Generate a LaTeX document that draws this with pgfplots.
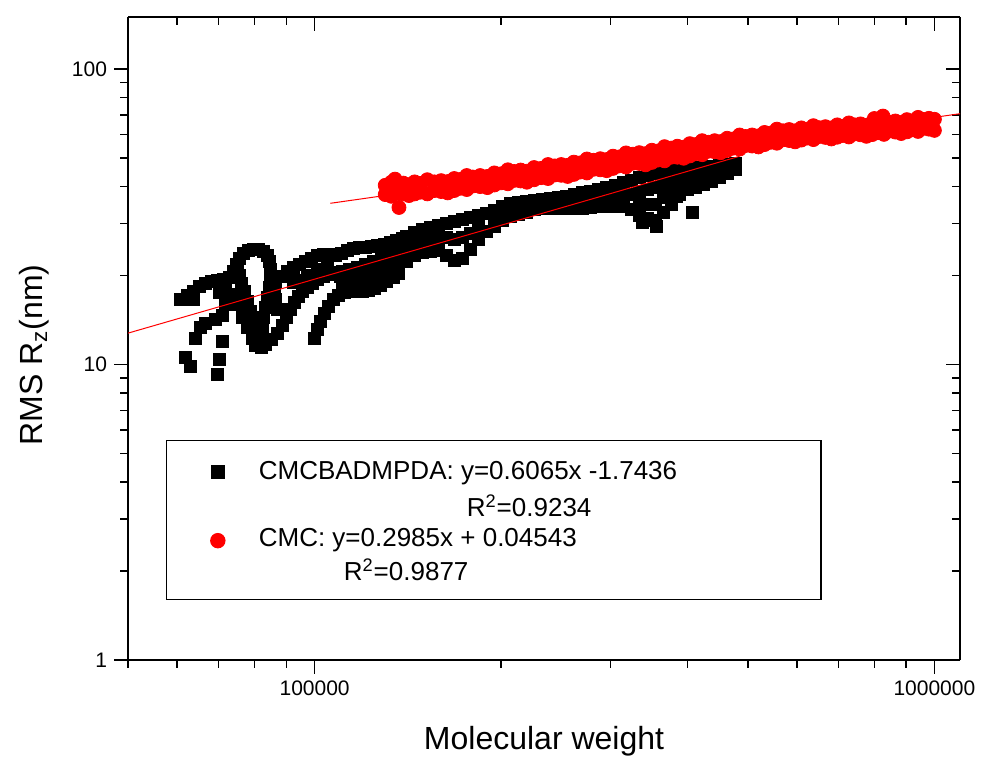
\documentclass[border=0pt]{standalone}
\usepackage{fontspec}
\setmainfont{Liberation Sans}
\usepackage{pgfplots}
\usepackage{pgfplotstable}
\pgfplotsset{compat=1.18}

% CMCBADMPDA: molecular weight vs. RMS radius (several overlapping traces)
\pgfplotstableread[row sep=\\]{
M R \\
60650 16.6 \\ 62250 17.1 \\ 63660 17.7 \\ 65100 18.4 \\ 66580 18.8 \\ 68090 19.1 \\ 69630 19.3 \\
71210 19.4 \\ 72820 19.7 \\ 73910 20.7 \\ 74750 21.8 \\ 75590 22.9 \\ 76730 23.8 \\ 78180 24.3 \\
79650 24.5 \\ 81150 24.5 \\ 82690 24.2 \\ 83930 23.4 \\ 84560 22.3 \\ 84870 21.0 \\ 84870 19.7 \\
75030 21.3 \\ 75590 20.0 \\ 76160 18.8 \\ 77020 17.7 \\ 77890 16.4 \\ 78770 15.1 \\ 79650 14.0 \\
80550 12.9 \\ 81460 12.1 \\ 82070 11.4 \\
84560 18.2 \\ 83930 16.9 \\ 83300 15.6 \\ 82690 14.4 \\ 82380 13.4 \\ 82070 12.3 \\
83300 11.7 \\ 85190 12.2 \\ 87110 12.7 \\ 88750 13.6 \\ 90090 14.4 \\ 91440 15.4 \\ 92810 16.2 \\
94210 17.0 \\ 95620 17.7 \\ 97420 18.2 \\ 99260 18.8 \\ 101100 19.4 \\ 103400 19.9 \\ 105800 20.2 \\
108100 20.5 \\ 111000 20.7 \\ 114000 21.0 \\ 117400 21.3 \\ 120900 21.8 \\ 124600 22.3 \\
128400 22.9 \\ 132300 23.4 \\ 136300 24.2 \\
86470 19.1 \\ 88420 19.9 \\ 90420 20.7 \\ 92470 21.3 \\ 94560 21.8 \\ 96700 22.3 \\ 98890 22.9 \\
101100 23.4 \\ 103400 23.6 \\ 105800 23.6 \\ 108100 23.4 \\ 110600 23.8 \\ 113100 24.3 \\
115700 24.7 \\ 118300 24.9 \\ 120900 24.9 \\ 123700 25.1 \\ 126500 25.3 \\ 129400 25.5 \\
132300 25.9 \\ 135300 26.3 \\ 138400 26.7 \\ 141500 27.2 \\ 144700 27.6 \\ 148000 28.0 \\
100000 12.3 \\ 101100 13.1 \\ 102300 14.0 \\ 103800 14.9 \\ 105400 15.7 \\ 107300 16.6 \\
109400 17.1 \\ 111800 17.5 \\ 114400 17.7 \\ 117000 17.7 \\ 119600 17.7 \\ 122300 17.8 \\
125100 18.1 \\ 127900 18.5 \\ 130800 19.1 \\ 133800 19.7 \\ 136300 20.3 \\
110200 19.9 \\ 113100 19.7 \\ 116100 19.7 \\ 118700 19.7 \\ 121900 20.2 \\ 125100 20.7 \\
128400 21.3 \\ 131800 22.0 \\ 135300 22.7 \\ 138900 23.2 \\ 142600 24.0 \\ 146300 24.7 \\
150200 25.3 \\
111000 19.0 \\ 115300 19.0 \\ 119600 19.0 \\ 124200 19.3 \\ 128900 19.7 \\ 133800 21.0 \\
61790 10.6 \\ 62960 9.84 \\ 69630 9.25 \\ 70150 10.4 \\ 70940 12.0 \\ 64140 12.3 \\ 65350 13.4 \\
66580 13.8 \\ 69110 14.2 \\ 70940 14.7 \\ 71740 16.0 \\ 73640 17.3 \\ 75030 16.0 \\ 76450 14.4 \\
77890 13.4 \\ 79350 12.3 \\ 80250 11.6 \\ 86150 17.7 \\ 86470 16.6 \\ 87110 15.4 \\ 92470 19.0 \\
94910 19.3 \\ 97420 20.0 \\ 101100 21.0 \\ 104970 21.3 \\ 63660 16.6 \\ 71740 18.0 \\ 70150 17.5 \\
136300 26.3 \\ 140400 27.2 \\ 144700 28.0 \\ 149100 28.7 \\ 153600 29.1 \\ 158200 29.6 \\
163100 30.1 \\ 168000 30.5 \\ 173100 31.0 \\ 178400 31.5 \\ 183800 32.0 \\ 189300 32.5 \\
195100 33.3 \\ 201000 34.3 \\ 207100 35.1 \\ 213300 35.4 \\ 219800 35.7 \\ 226400 36.0 \\
233300 36.3 \\ 240400 36.5 \\ 247700 36.8 \\ 255200 37.1 \\ 262900 37.7 \\ 270900 38.3 \\
279100 38.6 \\ 287500 39.2 \\ 296200 39.8 \\ 305200 40.4 \\ 314400 41.4 \\ 324000 42.0 \\
333800 43.1 \\ 343900 43.7 \\ 354300 44.4 \\ 365100 45.1 \\ 376100 45.5 \\ 387500 45.8 \\
399300 46.2 \\ 411400 46.5 \\ 423800 46.5 \\ 436700 46.9 \\ 449900 47.3 \\ 463600 47.6 \\
477600 48.0 \\
136300 21.5 \\ 140400 22.3 \\ 144700 23.4 \\ 149100 24.0 \\ 153600 24.2 \\ 158200 24.3 \\
163100 23.4 \\ 168000 22.5 \\ 173100 22.9 \\ 178400 24.5 \\ 183800 26.5 \\ 189300 28.2 \\
195100 29.4 \\ 201000 30.8 \\ 207100 31.8 \\ 213300 32.3 \\ 219800 32.7 \\ 226400 33.5 \\
233300 33.8 \\ 240400 33.8 \\ 247700 33.8 \\ 255200 33.8 \\ 262900 33.8 \\ 270900 33.8 \\
279100 34.1 \\ 287500 34.3 \\ 296200 34.3 \\ 305200 34.3 \\ 314400 34.3 \\ 324000 33.5 \\
333800 32.0 \\ 343900 31.3 \\ 354300 30.8 \\ 365100 32.7 \\ 376100 34.9 \\ 387500 37.7 \\
399300 39.2 \\ 411400 39.8 \\ 423800 40.7 \\ 436700 41.7 \\ 449900 43.1 \\ 463600 44.4 \\
477600 45.8 \\
136300 23.8 \\ 140400 24.7 \\ 144700 25.5 \\ 149100 26.1 \\ 153600 26.5 \\ 158200 27.0 \\
163100 27.0 \\ 168000 26.5 \\ 173100 27.0 \\ 178400 27.8 \\ 183800 29.1 \\ 287500 36.5 \\
305200 37.4 \\ 324000 37.7 \\ 333800 38.6 \\ 333800 35.1 \\ 343900 39.2 \\ 343900 34.9 \\
354300 39.8 \\ 354300 34.9 \\ 365100 40.7 \\ 365100 36.8 \\ 376100 41.4 \\ 376100 38.0 \\
387500 41.7 \\ 399300 42.4 \\
195100 31.3 \\ 201000 32.5 \\ 207100 33.4 \\ 213300 33.8 \\ 219800 34.2 \\ 226400 34.7 \\
233300 35.0 \\ 240400 35.1 \\ 247700 35.3 \\ 255200 35.4 \\ 262900 35.7 \\ 270900 36.0 \\
279100 36.3 \\ 296200 36.9 \\ 314400 37.7 \\ 411400 43.0 \\ 423800 43.5 \\ 436700 44.2 \\
449900 45.1 \\
406700 32.7 \\ 337600 30.3 \\ 355600 29.4 \\ 383200 37.1 \\
}\cmcbad

% CMC: molecular weight vs. RMS radius
\pgfplotstableread[row sep=\\]{
M R \\
130000 40.4 \\ 130000 37.6 \\ 133000 41.4 \\ 133000 37.1 \\ 136000 40.8 \\ 136000 38.0 \\
139000 41.1 \\ 139000 37.8 \\ 142000 40.6 \\ 142000 37.3 \\ 145000 41.5 \\ 145000 37.8 \\
148000 41.0 \\ 148000 38.3 \\ 152000 42.2 \\ 152000 37.8 \\ 156000 41.5 \\ 156000 38.8 \\
160000 41.9 \\ 160000 38.5 \\ 164000 41.6 \\ 164000 38.1 \\ 168000 42.6 \\ 168000 38.8 \\
172000 42.3 \\ 172000 39.5 \\ 176000 43.6 \\ 176000 39.1 \\ 180000 43.1 \\ 180000 40.2 \\
185000 43.6 \\ 185000 40.0 \\ 190000 43.3 \\ 190000 39.7 \\ 195000 44.5 \\ 195000 40.5 \\
200000 44.2 \\ 200000 41.2 \\ 205000 45.6 \\ 205000 40.9 \\ 210000 45.0 \\ 210000 42.0 \\
215000 45.5 \\ 215000 41.8 \\ 220000 45.1 \\ 220000 41.4 \\ 226000 46.4 \\ 226000 42.2 \\
232000 46.1 \\ 232000 42.9 \\ 238000 47.5 \\ 238000 42.6 \\ 244000 47.0 \\ 244000 43.8 \\
250000 47.5 \\ 250000 43.7 \\ 256000 47.2 \\ 256000 43.3 \\ 262000 48.4 \\ 262000 44.0 \\
268000 48.1 \\ 268000 44.8 \\ 275000 49.6 \\ 275000 44.5 \\ 282000 49.1 \\ 282000 45.8 \\
289000 49.7 \\ 289000 45.6 \\ 296000 49.4 \\ 296000 45.3 \\ 303000 50.7 \\ 303000 46.1 \\
310000 50.4 \\ 310000 47.0 \\ 318000 52.0 \\ 318000 46.6 \\ 326000 51.5 \\ 326000 48.0 \\
334000 52.1 \\ 334000 47.9 \\ 342000 51.7 \\ 342000 47.4 \\ 350000 53.1 \\ 350000 48.3 \\
358000 52.8 \\ 358000 49.2 \\ 367000 54.6 \\ 367000 48.9 \\ 376000 54.0 \\ 376000 50.3 \\
385000 54.8 \\ 385000 50.3 \\ 394000 54.4 \\ 394000 49.9 \\ 403000 55.9 \\ 403000 50.8 \\
412000 55.5 \\ 412000 51.7 \\ 422000 57.2 \\ 422000 51.3 \\ 432000 56.5 \\ 432000 52.7 \\
442000 57.2 \\ 442000 52.5 \\ 452000 56.8 \\ 452000 52.1 \\ 463000 58.3 \\ 463000 53.0 \\
474000 58.0 \\ 474000 54.0 \\ 485000 59.8 \\ 485000 53.6 \\ 496000 59.1 \\ 496000 55.1 \\
508000 59.8 \\ 508000 54.9 \\ 520000 59.4 \\ 520000 54.5 \\ 532000 61.0 \\ 532000 55.5 \\
544000 60.7 \\ 544000 56.5 \\ 557000 62.6 \\ 557000 56.1 \\ 570000 61.8 \\ 570000 57.6 \\
583000 62.4 \\ 583000 57.3 \\ 596000 61.8 \\ 596000 56.7 \\ 610000 63.2 \\ 610000 57.5 \\
624000 62.6 \\ 624000 58.4 \\ 638000 64.3 \\ 638000 57.7 \\ 652000 63.3 \\ 652000 59.1 \\
667000 63.8 \\ 667000 58.7 \\ 682000 63.2 \\ 682000 58.0 \\ 697000 64.7 \\ 697000 58.8 \\
712000 64.0 \\ 712000 59.6 \\ 728000 65.7 \\ 728000 58.9 \\ 744000 64.7 \\ 744000 60.3 \\
760000 65.2 \\ 760000 59.9 \\ 777000 64.5 \\ 777000 59.2 \\ 794000 65.9 \\ 794000 60.0 \\
811000 65.3 \\ 811000 60.9 \\ 829000 67.1 \\ 829000 60.1 \\ 847000 66.1 \\ 847000 61.7 \\
865000 66.7 \\ 865000 61.2 \\ 884000 65.9 \\ 884000 60.5 \\ 903000 67.4 \\ 903000 61.3 \\
922000 66.8 \\ 922000 62.3 \\ 941000 68.6 \\ 941000 61.5 \\ 960000 67.5 \\ 960000 63.0 \\
980000 68.1 \\ 980000 62.6 \\ 1000000 67.6 \\ 1000000 62.0 \\
134800 42.4 \\ 136800 34.0 \\ 826000 69.3 \\ 800000 68.0 \\
}\cmc

\pgfplotsset{
  logframe/.style={
    scale only axis, width=416pt, height=321.5pt,
    xmin=50000, xmax=1100000, ymin=1, ymax=150,
    axis line style={line width=0.8pt, black},
    major tick length=7pt, minor tick length=4pt,
    every tick/.append style={line width=0.7pt, black},
    every minor tick/.append style={line width=0.7pt, black},
    xtick={100000,1000000}, ytick={1,10,100},
    minor xtick={50000,60000,70000,80000,90000,200000,300000,400000,500000,600000,700000,800000,900000},
    minor ytick={2,3,4,5,6,7,8,9,20,30,40,50,60,70,80,90},
  }
}

\begin{document}
\begin{tikzpicture}
\useasboundingbox (-64pt,-48pt) rectangle (430pt,330pt);

% top and right edges: ticks point inward
\begin{axis}[xmode=log, ymode=log, logframe,
  axis x line*=top, axis y line*=right, tick align=inside,
  xticklabels={}, yticklabels={}]
\end{axis}

% bottom and left edges: ticks point outward, data and legend
\begin{axis}[xmode=log, ymode=log, logframe,
  axis x line*=bottom, axis y line*=left, tick align=outside,
  xticklabels={100000,1000000}, yticklabels={1,10,100},
  /pgf/number format/assume math mode=true,
  tick label style={font=\fontsize{10.5}{12}\selectfont},
  xlabel={Molecular weight},
  ylabel={RMS R\textsubscript{z}(nm)},
  label style={font=\fontsize{16}{19}\selectfont},
  xlabel style={at={(axis description cs:0.5,-0.1384)}, anchor=base},
  ylabel style={at={(axis description cs:-0.1034,0.4743)}, anchor=base},
  legend cell align=left,
  legend style={at={(axis description cs:0.0457,0.3422)}, anchor=north west,
    draw=black, line width=0.7pt, fill=white,
    inner xsep=17pt, inner ysep=6pt, column sep=17pt, row sep=0pt,
    font=\fontsize{13}{15}\selectfont,
    nodes={inner sep=0pt, text height=, text depth=}},
]
\addplot[only marks, mark=square*, mark size=3pt, black, forget plot] table {\cmcbad};
\addplot[only marks, mark=*, mark size=3.5pt, red, forget plot] table {\cmc};

\addlegendimage{only marks, mark=square*, mark size=3pt, black}
\addlegendentry{\rule[-6pt]{0pt}{19.5pt}\makebox[264pt][l]{CMCBADMPDA: y=0.6065x -1.7436}}
\addlegendimage{empty legend}
\addlegendentry{\rule[-4pt]{0pt}{16.5pt}\makebox[264pt][l]{\hspace*{104pt}R\textsuperscript{2}=0.9234}}
\addlegendimage{only marks, mark=*, mark size=3.5pt, red}
\addlegendentry{\rule[-5pt]{0pt}{16pt}\makebox[264pt][l]{CMC: y=0.2985x + 0.04543}}
\addlegendimage{empty legend}
\addlegendentry{\rule[-3.5pt]{0pt}{15.5pt}\makebox[264pt][l]{\hspace*{42.5pt}R\textsuperscript{2}=0.9877}}
\end{axis}

% power-law fits (straight lines on log-log axes), drawn above the markers
\begin{axis}[xmode=log, ymode=log, logframe, hide axis]
\addplot[red, line width=0.5pt] coordinates {(50000,12.77) (484800,50.66)};
\addplot[red, line width=0.5pt] coordinates {(106000,35.12) (1100000,70.6)};
\end{axis}
\end{tikzpicture}
\end{document}
